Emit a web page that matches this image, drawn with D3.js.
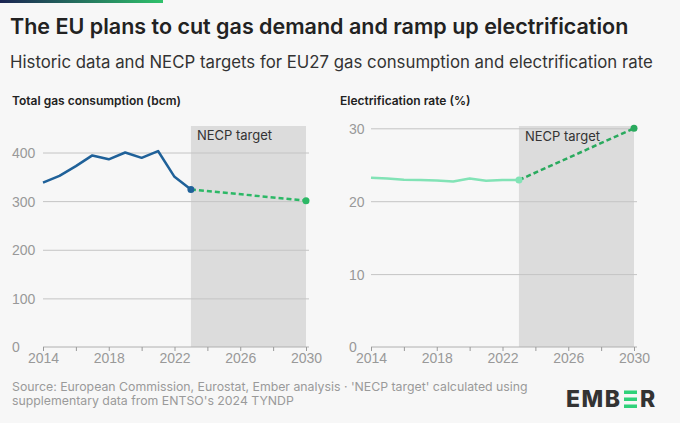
<!DOCTYPE html>
<html>
<head>
<meta charset="utf-8">
<script src="https://cdn.jsdelivr.net/npm/d3@7/dist/d3.min.js"></script>
<style>
  html, body { margin: 0; padding: 0; background: #f7f7f7; }
  svg { display: block; font-family: Inter, "Noto Sans", sans-serif; }
</style>
</head>
<body>
<div id="chart"></div>
<script>
'use strict';

// historic years and values
const years = [2014, 2015, 2016, 2017, 2018, 2019, 2020, 2021, 2022, 2023];
const gasHistoric = [338, 352, 372, 394, 386, 400, 389, 403, 350, 324];
const elecHistoric = [23.2, 23.1, 22.95, 22.9, 22.85, 22.7, 23.1, 22.8, 22.9, 22.9];

// NECP target paths (2023 -> 2030)
const targetYears = [2023, 2030];
const gasTarget = [324, 301];
const elecTarget = [22.9, 30];

const xTicks = [2014, 2016, 2018, 2020, 2022, 2024, 2026, 2028, 2030];
const gasTicks = [0, 100, 200, 300, 400];
const elecTicks = [0, 10, 20, 30];

const W = 680, H = 423;
const svg = d3.select('#chart').append('svg')
    .attr('width', W)
    .attr('height', H);

svg.append('rect').attr('width', W).attr('height', H).attr('fill', '#f7f7f7');

// top accent bar
const grad = svg.append('defs').append('linearGradient').attr('id', 'topbar');
grad.append('stop').attr('offset', '0%').attr('stop-color', '#1b2452');
grad.append('stop').attr('offset', '100%').attr('stop-color', '#2fc26b');
svg.append('rect').attr('x', 0).attr('y', 0).attr('width', 163).attr('height', 3).attr('fill', 'url(#topbar)');

svg.append('text')
    .attr('x', 10).attr('y', 34)
    .attr('font-size', 21.5).attr('font-weight', 600).attr('fill', '#222')
    .text('The EU plans to cut gas demand and ramp up electrification');

svg.append('text')
    .attr('x', 10).attr('y', 68)
    .attr('font-size', 16.8).attr('fill', '#333')
    .text('Historic data and NECP targets for EU27 gas consumption and electrification rate');

function panel(opts) {
  const g = svg.append('g');
  const x = d3.scaleLinear().domain([2014, 2030]).range([opts.x0, opts.x1]);
  const y = d3.scaleLinear().domain(opts.yDomain).range([347, opts.yTop]);

  g.append('text')
      .attr('x', opts.titleX).attr('y', 105)
      .attr('font-size', 12).attr('font-weight', 600).attr('fill', '#222')
      .text(opts.title);

  // target shading
  g.append('rect')
      .attr('x', x(2023)).attr('y', 126)
      .attr('width', x(2030) - x(2023)).attr('height', 347 - 126)
      .attr('fill', '#dcdcdc');

  // grid
  const yAxis = d3.axisLeft(y).tickValues(opts.yTicks).tickSize(-(opts.gridEnd - opts.labelX)).tickPadding(0);
  const ya = g.append('g').attr('transform', `translate(${opts.labelX},0)`).call(yAxis);
  ya.select('.domain').remove();
  ya.selectAll('.tick line')
      .attr('x1', opts.x0 - opts.labelX).attr('x2', opts.gridEnd - opts.labelX)
      .attr('stroke', '#c4c4c4').attr('stroke-width', 1)
      .filter(d => d === 0).remove();
  ya.selectAll('.tick text')
      .attr('x', 0).attr('dy', '0.35em').attr('text-anchor', 'start')
      .attr('font-family', null).attr('font-size', 14).attr('font-weight', 300).attr('fill', '#999');

  // x axis
  const xAxis = d3.axisBottom(x).tickValues(xTicks).tickSize(4).tickPadding(2)
      .tickFormat(d => (d - 2014) % 4 === 0 ? d : '');
  const xa = g.append('g').attr('transform', 'translate(0,347)').call(xAxis);
  xa.select('.domain').attr('stroke', '#b0b0b0').attr('d', `M${opts.x0},0H${opts.gridEnd}`);
  xa.selectAll('.tick line').attr('stroke', '#9a9a9a');
  xa.selectAll('.tick text')
      .attr('font-family', null).attr('font-size', 14).attr('font-weight', 300).attr('fill', '#999');

  g.append('text')
      .attr('x', x(2023) + 6).attr('y', opts.labelY)
      .attr('font-size', 13).attr('fill', '#333')
      .text('NECP target');

  const line = d3.line().x(d => x(d[0])).y(d => y(d[1]));

  g.append('path')
      .datum(d3.zip(targetYears, opts.target))
      .attr('d', line)
      .attr('fill', 'none').attr('stroke', opts.targetColor)
      .attr('stroke-width', 2.5).attr('stroke-dasharray', '5,3');

  g.append('path')
      .datum(d3.zip(years, opts.hist))
      .attr('d', line)
      .attr('fill', 'none').attr('stroke', opts.histColor)
      .attr('stroke-width', 2.5).attr('stroke-linejoin', 'round');

  g.append('circle')
      .attr('cx', x(2023)).attr('cy', y(opts.hist[opts.hist.length - 1])).attr('r', 3.5)
      .attr('fill', opts.histColor);
  g.append('circle')
      .attr('cx', x(2030)).attr('cy', y(opts.target[1])).attr('r', 3.5)
      .attr('fill', opts.targetColor);
}

panel({
  title: 'Total gas consumption (bcm)', titleX: 12,
  x0: 43, x1: 306, gridEnd: 309, labelX: 12,
  yDomain: [0, 400], yTop: 152.5, yTicks: gasTicks,
  hist: gasHistoric, target: gasTarget,
  histColor: '#1f6199', targetColor: '#2cb866', labelY: 140
});

panel({
  title: 'Electrification rate (%)', titleX: 340,
  x0: 371, x1: 634, gridEnd: 637, labelX: 349,
  yDomain: [0, 30], yTop: 128.3, yTicks: elecTicks,
  hist: elecHistoric, target: elecTarget,
  histColor: '#82e3b6', targetColor: '#2aaa5e', labelY: 141
});

// footer
const foot = svg.append('text').attr('font-size', 12.3).attr('fill', '#9a9a9a');
foot.append('tspan').attr('x', 12).attr('y', 391)
    .text("Source: European Commission, Eurostat, Ember analysis \u00b7 'NECP target' calculated using");
foot.append('tspan').attr('x', 12).attr('y', 405)
    .text("supplementary data from ENTSO's 2024 TYNDP");

// logo
const logo = svg.append('g').attr('transform', 'translate(566,407)');
logo.append('text').attr('x', 0).attr('y', 0)
    .attr('font-size', 23).attr('font-weight', 800).attr('fill', '#333').attr('letter-spacing', 1.5)
    .text('EMB');
[0, 7, 14].forEach(dy => {
  logo.append('rect').attr('x', 58).attr('y', -16.5 + dy).attr('width', 13).attr('height', 3.5).attr('fill', '#2fd27a');
});
logo.append('text').attr('x', 74).attr('y', 0)
    .attr('font-size', 23).attr('font-weight', 800).attr('fill', '#333')
    .text('R');
</script>
</body>
</html>
